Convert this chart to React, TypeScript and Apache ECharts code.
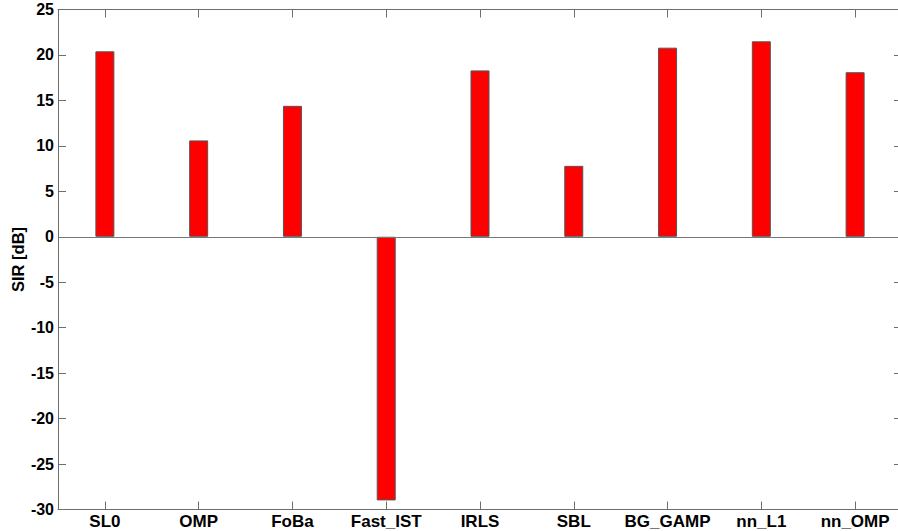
import React, { useEffect, useRef } from "react";
import * as echarts from "echarts";

const methods = ["SL0", "OMP", "FoBa", "Fast_IST", "IRLS", "SBL", "BG_GAMP", "nn_L1", "nn_OMP"];
const sirValues = [20.4, 10.6, 14.4, -29.0, 18.3, 7.8, 20.8, 21.5, 18.1];
const yMin = -30;
const yMax = 25;
const yStep = 5;

export default function App() {
  const ref = useRef<HTMLDivElement>(null);

  useEffect(() => {
    if (!ref.current) return;
    const chart = echarts.init(ref.current, null, { renderer: "svg" });
    const axisColor = "#6e6e6e";
    const font = "Liberation Sans, Arial, sans-serif";
    const tickInside = { show: true, inside: true, length: 8, lineStyle: { color: axisColor } };

    chart.setOption({
      animation: false,
      backgroundColor: "#ffffff",
      grid: {
        left: 58,
        top: 9.5,
        width: 844,
        height: 500,
        containLabel: false,
        outerBoundsMode: "none",
      },
      xAxis: [
        {
          type: "category",
          data: methods,
          position: "bottom",
          boundaryGap: true,
          axisLine: { show: true, onZero: false, lineStyle: { color: axisColor, width: 1 } },
          axisTick: { ...tickInside, alignWithLabel: true },
          axisLabel: {
            interval: 0,
            hideOverlap: false,
            color: "#000",
            fontWeight: "bold",
            fontSize: 17,
            fontFamily: font,
            margin: 3,
          },
          splitLine: { show: false },
        },
        {
          type: "category",
          data: methods,
          position: "top",
          boundaryGap: true,
          axisLine: { show: true, onZero: false, lineStyle: { color: axisColor, width: 1 } },
          axisTick: { ...tickInside, alignWithLabel: true },
          axisLabel: { show: false },
          splitLine: { show: false },
        },
      ],
      yAxis: [
        {
          type: "value",
          min: yMin,
          max: yMax,
          interval: yStep,
          position: "left",
          name: "SIR [dB]",
          nameLocation: "middle",
          nameGap: 32,
          nameMoveOverlap: false,
          nameTextStyle: { color: "#000", fontWeight: "bold", fontSize: 16.5, fontFamily: font },
          axisLine: { show: true, onZero: false, lineStyle: { color: axisColor, width: 1 } },
          axisTick: tickInside,
          axisLabel: { color: "#000", fontWeight: "bold", fontSize: 16, fontFamily: font, margin: 4 },
          splitLine: { show: false },
        },
        {
          type: "value",
          min: yMin,
          max: yMax,
          interval: yStep,
          position: "right",
          axisLine: { show: true, onZero: false, lineStyle: { color: axisColor, width: 1 } },
          axisTick: tickInside,
          axisLabel: { show: false },
          splitLine: { show: false },
        },
      ],
      series: [
        {
          type: "bar",
          xAxisIndex: 0,
          yAxisIndex: 0,
          data: sirValues,
          barWidth: 19,
          itemStyle: { color: "#ff0000", borderColor: "#555555", borderWidth: 1 },
          markLine: {
            silent: true,
            symbol: "none",
            label: { show: false },
            lineStyle: { color: "#777777", width: 1, type: "solid" },
            data: [{ yAxis: 0 }],
          },
        },
      ],
    });

    return () => chart.dispose();
  }, []);

  return (
    <div
      ref={ref}
      style={{ position: "fixed", left: 0, top: 0, width: 898, height: 531, background: "#fff" }}
    />
  );
}
